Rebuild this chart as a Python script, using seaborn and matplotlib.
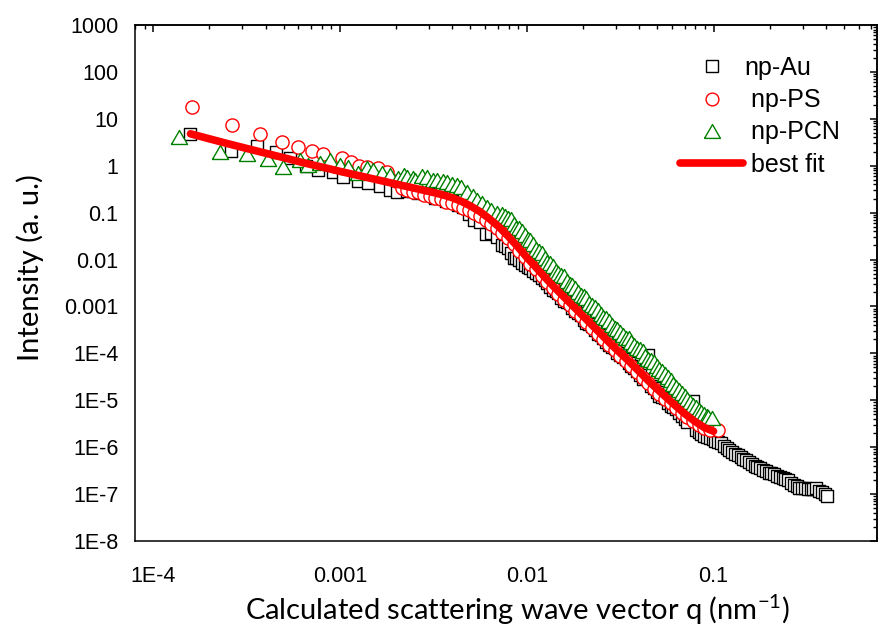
import matplotlib
matplotlib.use("Agg")
import numpy as np
import pandas as pd
import seaborn as sns
import matplotlib.pyplot as plt
from matplotlib.lines import Line2D
from matplotlib.ticker import LogLocator, FuncFormatter, NullFormatter

# ---------------- data ----------------
q_au = [1.57e-4, 2.62e-4, 3.61e-4, 4.57e-4, 5.42e-4, 6.60e-4, 7.66e-4, 9.20e-4, 1.04e-3, 1.25e-3,
        1.42e-3, 1.64e-3, 1.86e-3, 2.03e-3,
        2.29e-3, 2.455e-3, 2.63e-3, 2.82e-3, 3.02e-3, 3.24e-3, 3.47e-3, 3.72e-3, 3.98e-3, 4.27e-3,
        4.57e-3, 4.90e-3, 5.25e-3, 5.62e-3, 6.03e-3, 6.46e-3, 6.92e-3, 7.41e-3, 7.94e-3, 8.51e-3,
        9.12e-3, 9.77e-3, 1.047e-2, 1.122e-2, 1.202e-2, 1.288e-2, 1.380e-2, 1.479e-2, 1.585e-2, 1.698e-2,
        1.820e-2, 1.950e-2, 2.089e-2, 2.239e-2, 2.399e-2, 2.570e-2, 2.754e-2, 2.951e-2, 3.162e-2, 3.388e-2,
        3.631e-2, 3.890e-2, 4.169e-2, 4.467e-2, 4.786e-2, 5.129e-2, 5.495e-2, 5.888e-2, 6.310e-2, 6.761e-2,
        7.244e-2, 7.762e-2, 8.318e-2, 8.913e-2, 9.550e-2, 0.1023, 0.1096, 0.1175, 0.1259, 0.1349,
        0.1445, 0.1549, 0.1660, 0.1778, 0.1905, 0.2042, 0.2188, 0.2344, 0.2512, 0.2692,
        0.2884, 0.3090, 0.3311, 0.3548, 0.3802, 0.4074]
I_au = [4.74, 2.06, 2.63, 1.96, 1.46, 0.99, 0.81, 0.73, 0.57, 0.48,
        0.42, 0.37, 0.31, 0.28,
        0.286, 0.294, 0.264, 0.266, 0.244, 0.209, 0.214, 0.180, 0.174, 0.142,
        0.132, 0.0955, 0.0695, 0.0631, 0.0355, 0.0368, 0.0305, 0.0209, 0.0174, 0.0109,
        9.64e-3, 7.52e-3, 6.64e-3, 5.13e-3, 3.98e-3, 3.21e-3, 2.20e-3, 1.91e-3, 1.32e-3, 1.20e-3,
        7.94e-4, 6.61e-4, 4.47e-4, 3.80e-4, 2.63e-4, 2.14e-4, 1.48e-4, 1.27e-4, 9.12e-5, 7.52e-5,
        5.25e-5, 4.27e-5, 2.88e-5, 9.33e-5, 1.80e-5, 1.24e-5, 1.11e-5, 7.55e-6, 6.46e-6, 4.66e-6,
        3.39e-6, 9.55e-6, 2.08e-6, 1.74e-6, 1.55e-6, 1.38e-6, 1.20e-6, 9.55e-7, 7.94e-7, 6.76e-7,
        5.62e-7, 4.90e-7, 3.98e-7, 3.55e-7, 3.09e-7, 2.75e-7, 2.45e-7, 2.19e-7, 2.04e-7, 1.58e-7,
        1.38e-7, 1.32e-7, 1.26e-7, 1.32e-7, 1.10e-7, 9.1e-8]
# further np-Au points read between the ones above (dense part of the curve)
q_au_b = [7.674e-3, 8.222e-3, 8.810e-3, 9.441e-3, 1.012e-2, 1.084e-2, 1.161e-2, 1.245e-2, 1.334e-2, 1.429e-2,
          1.531e-2, 1.641e-2, 1.758e-2, 1.884e-2, 2.018e-2, 2.163e-2, 2.317e-2, 2.483e-2, 2.661e-2, 2.851e-2,
          3.055e-2, 3.273e-2, 3.508e-2, 3.758e-2, 4.027e-2, 4.315e-2, 4.624e-2, 4.955e-2, 5.309e-2, 5.689e-2,
          6.095e-2, 6.531e-2, 6.998e-2, 7.499e-2, 8.035e-2, 8.610e-2, 9.226e-2, 9.886e-2,
          0.1059, 0.1135, 0.1216, 0.1303, 0.1396, 0.1496, 0.1603, 0.1718, 0.1841, 0.1972,
          0.2113, 0.2265, 0.2427, 0.2600, 0.2786, 0.2985, 0.3199, 0.3428, 0.3673, 0.3936]
I_au_b = [0.0191, 0.0136, 0.0107, 8.41e-3, 7.08e-3, 5.83e-3, 4.62e-3, 3.58e-3, 2.59e-3, 2.14e-3,
          1.55e-3, 1.26e-3, 9.12e-4, 7.41e-4, 5.25e-4, 4.17e-4, 3.09e-4, 2.45e-4, 1.74e-4, 1.39e-4,
          1.04e-4, 8.38e-5, 6.14e-5, 4.79e-5, 3.39e-5, 8.51e-5, 2.01e-5, 1.48e-5, 1.20e-5, 8.75e-6,
          7.14e-6, 5.37e-6, 3.98e-6, 8.41e-6, 2.34e-6, 1.91e-6, 1.64e-6, 1.48e-6,
          1.29e-6, 1.07e-6, 8.71e-7, 7.24e-7, 6.17e-7, 5.25e-7, 4.37e-7, 3.80e-7, 3.31e-7, 2.88e-7,
          2.63e-7, 2.34e-7, 2.09e-7, 1.74e-7, 1.48e-7, 1.35e-7, 1.29e-7, 1.26e-7, 1.17e-7, 1.0e-7]

q_ps = [1.62e-4, 2.64e-4, 3.75e-4, 4.90e-4, 5.96e-4, 7.08e-4, 8.10e-4, 1.02e-3, 1.15e-3, 1.26e-3,
        1.40e-3, 1.59e-3, 1.78e-3, 2.00e-3,
        2.14e-3, 2.29e-3, 2.455e-3, 2.63e-3, 2.82e-3, 3.02e-3, 3.24e-3, 3.47e-3, 3.72e-3, 3.98e-3,
        4.27e-3, 4.57e-3, 4.90e-3, 5.25e-3, 5.62e-3, 6.03e-3, 6.46e-3, 6.92e-3, 7.41e-3, 7.94e-3,
        8.51e-3, 9.12e-3, 9.77e-3, 1.047e-2, 1.122e-2, 1.202e-2, 1.288e-2, 1.380e-2, 1.479e-2, 1.585e-2,
        1.698e-2, 1.820e-2, 1.950e-2, 2.089e-2, 2.239e-2, 2.399e-2, 2.570e-2, 2.754e-2, 2.951e-2, 3.162e-2,
        3.388e-2, 3.631e-2, 3.890e-2, 4.169e-2, 4.467e-2, 4.786e-2, 5.129e-2, 5.495e-2, 5.888e-2, 6.310e-2,
        6.761e-2, 7.244e-2, 7.762e-2, 8.318e-2, 8.913e-2, 9.550e-2, 0.106]
I_ps = [18.1, 7.4, 4.7, 3.16, 2.54, 2.06, 1.77, 1.45, 1.20, 1.00,
        0.93, 0.88, 0.72, 0.48,
        0.333, 0.306, 0.281, 0.270, 0.243, 0.228, 0.209, 0.191, 0.172, 0.158,
        0.142, 0.126, 0.112, 0.0982, 0.0851, 0.0708, 0.0570, 0.0472, 0.0372, 0.0282,
        0.0213, 0.0153, 0.0114, 8.17e-3, 6.17e-3, 4.47e-3, 3.37e-3, 2.47e-3, 1.86e-3, 1.38e-3,
        1.07e-3, 7.94e-4, 6.17e-4, 4.57e-4, 3.55e-4, 2.63e-4, 2.04e-4, 1.51e-4, 1.19e-4, 8.91e-5,
        7.01e-5, 5.25e-5, 4.07e-5, 3.02e-5, 2.34e-5, 1.76e-5, 1.39e-5, 1.09e-5, 8.67e-6, 6.76e-6,
        5.47e-6, 4.37e-6, 3.55e-6, 3.01e-6, 2.51e-6, 2.34e-6, 2.29e-6]

q_pcn = [1.37e-4, 2.27e-4, 3.20e-4, 4.14e-4, 4.98e-4, 6.14e-4, 6.78e-4, 7.85e-4, 8.87e-4, 1.00e-3,
         1.11e-3, 1.25e-3, 1.40e-3, 1.51e-3, 1.68e-3, 1.86e-3, 2.05e-3, 2.19e-3, 2.29e-3, 2.45e-3,
         2.53e-3, 2.75e-3, 2.93e-3, 3.16e-3, 3.32e-3, 3.55e-3, 3.75e-3, 3.98e-3, 4.24e-3, 4.47e-3,
         4.80e-3, 5.13e-3, 5.43e-3, 5.75e-3, 6.14e-3, 6.46e-3, 6.95e-3,
         7.41e-3, 7.94e-3, 8.51e-3, 9.12e-3, 9.77e-3, 1.047e-2, 1.122e-2, 1.202e-2, 1.288e-2, 1.380e-2,
         1.479e-2, 1.585e-2, 1.698e-2, 1.820e-2, 1.950e-2, 2.089e-2, 2.239e-2, 2.399e-2, 2.570e-2, 2.754e-2,
         2.951e-2, 3.162e-2, 3.388e-2, 3.631e-2, 3.890e-2, 4.169e-2, 4.467e-2, 4.786e-2, 5.129e-2, 5.495e-2,
         5.888e-2, 6.310e-2, 6.761e-2, 7.244e-2, 7.762e-2, 8.318e-2, 8.913e-2, 9.33e-2, 9.82e-2]
I_pcn = [4.07, 1.96, 1.78, 1.42, 0.94, 1.32, 1.04, 1.14, 1.32, 1.04,
         0.94, 0.70, 0.89, 0.81, 0.70, 0.63, 0.55, 0.63, 0.57, 0.54,
         0.50, 0.60, 0.57, 0.50, 0.50, 0.47, 0.45, 0.40, 0.39, 0.355,
         0.27, 0.23, 0.19, 0.16, 0.135, 0.115, 0.10,
         0.0933, 0.0759, 0.0586, 0.0472, 0.0328, 0.0258, 0.0170, 0.0138, 8.85e-3, 7.28e-3,
         5.25e-3, 4.37e-3, 3.02e-3, 2.45e-3, 1.78e-3, 1.48e-3, 1.05e-3, 8.32e-4, 5.89e-4, 4.90e-4,
         3.50e-4, 2.88e-4, 2.12e-4, 1.78e-4, 1.29e-4, 1.10e-4, 7.76e-5, 6.40e-5, 4.61e-5, 3.68e-5,
         2.68e-5, 1.95e-5, 1.41e-5, 1.05e-5, 7.94e-6, 6.31e-6, 5.01e-6, 4.37e-6, 4.17e-6]
# further np-PCN points read between the ones above
q_pcn_b = [7.674e-3, 8.222e-3, 8.810e-3, 9.441e-3, 1.012e-2, 1.084e-2, 1.161e-2, 1.245e-2, 1.334e-2, 1.429e-2,
           1.531e-2, 1.641e-2, 1.758e-2, 1.884e-2, 2.018e-2, 2.163e-2, 2.317e-2, 2.483e-2, 2.661e-2, 2.851e-2,
           3.055e-2, 3.273e-2, 3.508e-2, 3.758e-2, 4.027e-2, 4.315e-2, 4.624e-2, 4.955e-2, 5.309e-2, 5.689e-2,
           6.095e-2, 6.531e-2, 6.998e-2, 7.499e-2, 8.035e-2, 8.610e-2, 9.226e-2]
I_pcn_b = [0.0851, 0.0714, 0.0479, 0.0412, 0.0269, 0.0212, 0.0150, 0.0108, 8.59e-3, 5.75e-3,
           4.79e-3, 3.55e-3, 2.88e-3, 2.00e-3, 1.66e-3, 1.17e-3, 9.77e-4, 6.92e-4, 5.62e-4, 4.09e-4,
           3.37e-4, 2.47e-4, 2.08e-4, 1.51e-4, 1.26e-4, 8.91e-5, 7.29e-5, 5.37e-5, 4.17e-5, 3.10e-5,
           2.26e-5, 1.66e-5, 1.23e-5, 9.02e-6, 7.08e-6, 5.62e-6, 4.62e-6]

q_fit = [1.585e-4, 1.995e-4, 2.512e-4, 3.162e-4, 3.981e-4, 5.012e-4, 6.310e-4, 7.943e-4, 1.0e-3, 1.259e-3,
         1.585e-3, 1.995e-3, 2.512e-3, 3.162e-3, 3.548e-3, 3.981e-3, 4.467e-3, 5.012e-3, 5.623e-3, 6.310e-3,
         7.079e-3, 7.943e-3, 8.913e-3, 1.0e-2, 1.122e-2, 1.259e-2, 1.413e-2, 1.585e-2, 1.778e-2, 1.995e-2,
         2.239e-2, 2.512e-2, 2.818e-2, 3.162e-2, 3.548e-2, 3.981e-2, 4.467e-2, 5.012e-2, 5.623e-2, 6.310e-2,
         7.079e-2, 7.943e-2, 8.913e-2, 0.1]
I_fit = [4.79, 3.76, 2.95, 2.34, 1.86, 1.48, 1.17, 0.944, 0.759, 0.617,
         0.501, 0.407, 0.331, 0.269, 0.240, 0.209, 0.174, 0.138, 0.105, 0.0741,
         0.0501, 0.0316, 0.0191, 0.0112, 6.76e-3, 4.07e-3, 2.51e-3, 1.58e-3, 1.0e-3, 6.31e-4,
         3.98e-4, 2.51e-4, 1.58e-4, 1.02e-4, 6.61e-5, 4.17e-5, 2.63e-5, 1.70e-5, 1.12e-5, 7.41e-6,
         5.01e-6, 3.55e-6, 2.63e-6, 2.19e-6]

series_labels = ["np-Au", " np-PS", " np-PCN", " best fit"]
x_label = "Calculated scattering wave vector q (nm$^{-1}$)"
y_label = "Intensity (a. u.)"

# ---------------- style ----------------
sns.set_theme(style="white")
plt.rcParams["font.family"] = ["Liberation Sans", "DejaVu Sans"]
plt.rcParams["mathtext.default"] = "regular"
for k in ["axes.edgecolor", "xtick.color", "ytick.color", "text.color", "axes.labelcolor"]:
    plt.rcParams[k] = "black"

BLACK, RED, GREEN = "#000000", "#FF0000", "#008000"
tri = [(-1, -0.866), (1, -0.866), (0, 0.866), (-1, -0.866)]

W, H = 881, 628
fig = plt.figure(figsize=(W / 100, H / 100), dpi=100)
ax = fig.add_axes([135 / W, 1 - 541 / H, 742 / W, 516 / H])

df_au = pd.DataFrame({"q": q_au + q_au_b, "I": I_au + I_au_b}).sort_values("q")
df_ps = pd.DataFrame({"q": q_ps, "I": I_ps})
df_pcn = pd.DataFrame({"q": q_pcn + q_pcn_b, "I": I_pcn + I_pcn_b}).sort_values("q")
df_fit = pd.DataFrame({"q": q_fit, "I": I_fit})

sns.scatterplot(data=df_au, x="q", y="I", ax=ax, marker="s", s=76,
                facecolor="white", edgecolor=BLACK, linewidth=1.0, zorder=2)
sns.scatterplot(data=df_ps, x="q", y="I", ax=ax, marker="o", s=90,
                facecolor="white", edgecolor=RED, linewidth=1.0, zorder=3)
sns.scatterplot(data=df_pcn, x="q", y="I", ax=ax, marker=tri, s=135,
                facecolor="white", edgecolor=GREEN, linewidth=1.0, zorder=4)
sns.lineplot(data=df_fit, x="q", y="I", ax=ax, color=RED, linewidth=5.5,
             sort=False, estimator=None, zorder=5, solid_capstyle="round")

ax.set_xscale("log")
ax.set_yscale("log")
ax.set_xlim(8.0e-5, 0.75)
ax.set_ylim(1e-8, 1000)


def fmt(v, pos):
    e = int(round(np.log10(v)))
    if e >= 0:
        return "%d" % (10 ** e)
    if e >= -3:
        return ("%." + str(-e) + "f") % (10.0 ** e)
    return "1E%d" % e


def set_locators(axis):
    axis.set_major_locator(LogLocator(base=10, numticks=40))
    axis.set_minor_locator(LogLocator(base=10, subs=np.arange(2, 10), numticks=40))


for axis in (ax.xaxis, ax.yaxis):
    set_locators(axis)
    axis.set_major_formatter(FuncFormatter(fmt))
    axis.set_minor_formatter(NullFormatter())

ax.tick_params(which="major", direction="out", length=7, width=1.1, labelsize=15.5, pad=5,
               top=False, right=False)
ax.tick_params(which="minor", direction="out", length=3.5, width=1.0, top=False, right=False)
ax.tick_params(axis="x", which="major", pad=11)

for sp in ax.spines.values():
    sp.set_visible(True)
    sp.set_linewidth(1.1)
    sp.set_color("black")

sec_x = ax.secondary_xaxis("top")
sec_y = ax.secondary_yaxis("right")
for sec, axis in ((sec_x, sec_x.xaxis), (sec_y, sec_y.yaxis)):
    set_locators(axis)
    axis.set_major_formatter(NullFormatter())
    axis.set_minor_formatter(NullFormatter())
    sec.tick_params(which="major", direction="in", length=5, width=1.1)
    sec.tick_params(which="minor", direction="in", length=3, width=1.0)
    for sp in sec.spines.values():
        sp.set_linewidth(1.1)
        sp.set_color("black")

ax.set_xlabel(x_label, fontfamily=["Lato", "DejaVu Sans"], fontsize=21)
ax.set_ylabel(y_label, fontfamily=["Lato", "DejaVu Sans"], fontsize=21)
ax.xaxis.label.set_va("center")
ax.yaxis.label.set_va("center")
ax.xaxis.set_label_coords(0.516, -0.133)
ax.yaxis.set_label_coords(-0.1415, 0.529)

handles = [
    Line2D([], [], ls="none", marker="s", ms=8.2, mfc="white", mec=BLACK, mew=1.0),
    Line2D([], [], ls="none", marker="o", ms=9.2, mfc="white", mec=RED, mew=1.0),
    Line2D([], [], ls="none", marker=tri, ms=11.5, mfc="white", mec=GREEN, mew=1.0),
    Line2D([], [], color=RED, lw=5.5, solid_capstyle="round"),
]
ax.legend(handles, series_labels, loc="upper left",
          bbox_to_anchor=(680 / W, 1 - 56 / H), bbox_transform=fig.transFigure,
          frameon=False, fontsize=18, handlelength=2.52, handletextpad=0.05,
          labelspacing=0.33, borderpad=0, borderaxespad=0)

fig.savefig("out.png", dpi=100)
